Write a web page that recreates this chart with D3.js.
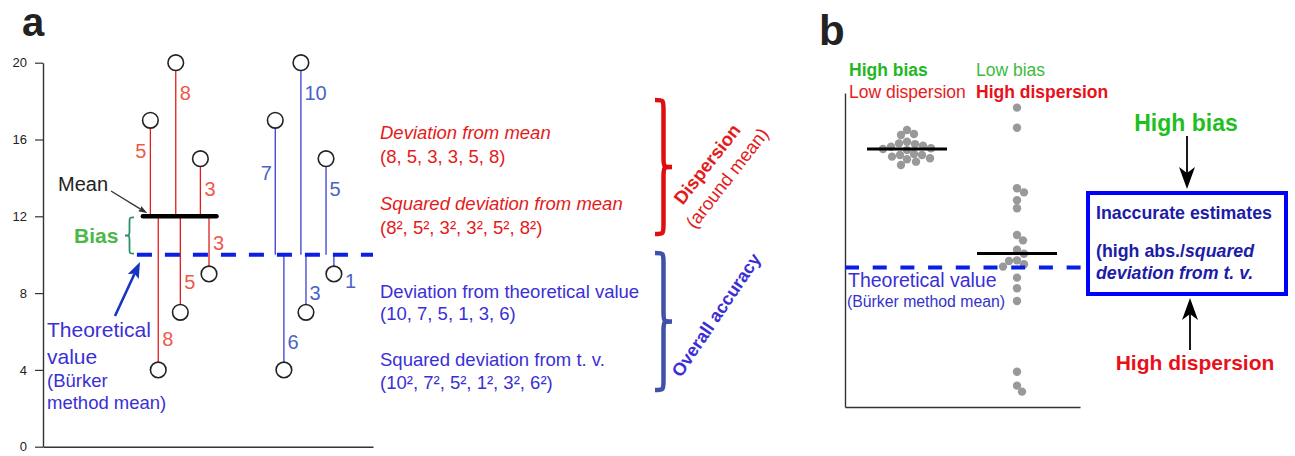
<!DOCTYPE html>
<html>
<head>
<meta charset="utf-8">
<script src="https://cdn.jsdelivr.net/npm/d3@7"></script>
<style>
  body { margin: 0; background: #fff; }
  svg { display: block; }
  text { font-family: "Liberation Sans", Arial, sans-serif; }
</style>
</head>
<body>
<svg id="chart" width="1295" height="456"></svg>
<script>
// ---------- panel a data ----------
const theoretical = 10;
const groupMean = 12;
const obsValues = [17, 20, 15, 9, 7, 4];
const obsPosLeft = [4.23, 5.23, 6.2, 6.54, 5.41, 4.54];     // observation slot, left example
const obsPosRight = [9.15, 10.16, 11.15, 11.46, 10.36, 9.49]; // observation slot, right example
const devFromMean = [5, 8, 3, 3, 5, 8];
const devFromTheo = [7, 10, 5, 1, 3, 6];
const yTicksA = [0, 4, 8, 12, 16, 20];

const dispersionLines = ["Deviation from mean", "(8, 5, 3, 3, 5, 8)",
                         "Squared deviation from mean", "(8², 5², 3², 3², 5², 8²)"];
const accuracyLines = ["Deviation from theoretical value", "(10, 7, 5, 1, 3, 6)",
                       "Squared deviation from t. v.", "(10², 7², 5², 1², 3², 6²)"];

// ---------- panel b data ----------
const bTheoretical = 10;
const bHighBias = [19.85, 19.56, 19.49, 19.01, 18.84, 18.89, 18.72, 18.65, 18.54, 18.49,
                   18.41, 18.13, 18.06, 18.06, 17.94, 17.82, 17.75, 17.58, 17.34];
const bLowBias = [21.45, 20.01, 15.67, 15.38, 14.81, 14.24, 12.32, 11.94, 11.27, 10.98,
                  10.51, 10.46, 10.23, 10.06, 9.27, 8.51, 7.6, 2.53, 1.53, 1.1];

const RED = "#e31b1b", RED_LBL = "#f0584a", BLUE_LINE = "#3a3fd0", BLUE_LBL = "#4b63c6";
const TV_BLUE = "#3a2fd6", GREEN = "#4cb848";

const svg = d3.select("#chart");

// --- helpers ---
function arrow(g, x1, y1, x2, y2, color, width, headLen, headW, notch) {
    const ang = Math.atan2(y2 - y1, x2 - x1);
    const cos = Math.cos(ang), sin = Math.sin(ang);
    const bx = x2 - headLen * cos, by = y2 - headLen * sin;
    const nx = x2 - (headLen - notch) * cos, ny = y2 - (headLen - notch) * sin;
    g.append("line").attr("x1", x1).attr("y1", y1).attr("x2", nx).attr("y2", ny)
        .attr("stroke", color).attr("stroke-width", width);
    g.append("path")
        .attr("d", `M${x2},${y2}L${bx - headW / 2 * sin},${by + headW / 2 * cos}L${nx},${ny}L${bx + headW / 2 * sin},${by - headW / 2 * cos}Z`)
        .attr("fill", color);
}

// right-pointing curly brace (dir = 1) or left-pointing (dir = -1)
function brace(x0, y1, y2, w, dir) {
    const ym = (y1 + y2) / 2, r = Math.min(10, (y2 - y1) / 6);
    const xm = x0 + dir * w / 2, xt = x0 + dir * w;
    return `M${x0},${y1}C${xm},${y1} ${xm},${y1} ${xm},${y1 + r}` +
        `L${xm},${ym - r}C${xm},${ym} ${xm},${ym} ${xt},${ym}` +
        `C${xm},${ym} ${xm},${ym} ${xm},${ym + r}` +
        `L${xm},${y2 - r}C${xm},${y2} ${xm},${y2} ${x0},${y2}`;
}

// simple beeswarm: nearest free horizontal offset for each dot
function dodge(values, y, r) {
    const placed = [];
    return values.map(v => {
        const py = y(v);
        let off = 0;
        for (let k = 0; k < 200; k++) {
            const c = k === 0 ? 0 : (k % 2 ? 1 : -1) * Math.ceil(k / 2);
            if (placed.every(p => Math.hypot(p.x - c, p.y - py) >= 2 * r)) { off = c; break; }
        }
        placed.push({ x: off, y: py });
        return { v, dx: off, y: py };
    });
}

// ================= PANEL a =================
const ga = svg.append("g");
const xA = d3.scaleLinear().domain([0, 13]).range([43, 373]);
const yA = d3.scaleLinear().domain([0, 20]).range([446.7, 62.7]);

ga.append("text").attr("x", 22).attr("y", 36).attr("font-size", 40).attr("font-weight", "bold")
    .attr("fill", "#222").text("a");

const yAxisA = ga.append("g").attr("transform", `translate(${xA(0)},0)`)
    .call(d3.axisLeft(yA).tickValues(yTicksA).tickSize(8).tickSizeOuter(0).tickPadding(8));
yAxisA.select(".domain").attr("stroke", "#333").attr("stroke-width", 1.4);
yAxisA.selectAll(".tick line").attr("stroke", "#333").attr("stroke-width", 1.2);
yAxisA.selectAll(".tick text").attr("font-size", 13).attr("fill", "#222")
    .attr("font-family", "Liberation Sans, Arial, sans-serif");
const xAxisA = ga.append("g").attr("transform", `translate(0,${yA(0)})`)
    .call(d3.axisBottom(xA).tickValues([]).tickSizeOuter(0));
xAxisA.select(".domain").attr("stroke", "#333").attr("stroke-width", 1.4);

// red deviation lines (to the mean)
ga.selectAll(".devM").data(obsValues).enter().append("line")
    .attr("x1", (d, i) => xA(obsPosLeft[i])).attr("x2", (d, i) => xA(obsPosLeft[i]))
    .attr("y1", d => yA(d)).attr("y2", yA(groupMean))
    .attr("stroke", RED).attr("stroke-width", 1.3);

// blue deviation lines (to theoretical value)
ga.selectAll(".devT").data(obsValues).enter().append("line")
    .attr("x1", (d, i) => xA(obsPosRight[i])).attr("x2", (d, i) => xA(obsPosRight[i]))
    .attr("y1", d => yA(d)).attr("y2", yA(theoretical))
    .attr("stroke", BLUE_LINE).attr("stroke-width", 1.3);

// mean bar
ga.append("line")
    .attr("x1", xA(d3.min(obsPosLeft)) - 7.5).attr("x2", xA(d3.max(obsPosLeft)) + 7.5)
    .attr("y1", yA(groupMean)).attr("y2", yA(groupMean))
    .attr("stroke", "#000").attr("stroke-width", 4.5).attr("stroke-linecap", "round");

// theoretical value dashed line
ga.append("line").attr("x1", xA(3.7)).attr("x2", xA(13))
    .attr("y1", yA(theoretical)).attr("y2", yA(theoretical))
    .attr("stroke", "#0a1ee6").attr("stroke-width", 4).attr("stroke-dasharray", "15,13");

// circles
[obsPosLeft, obsPosRight].forEach(pos => {
    ga.selectAll(null).data(obsValues).enter().append("circle")
        .attr("cx", (d, i) => xA(pos[i])).attr("cy", d => yA(d)).attr("r", 7.8)
        .attr("fill", "#fff").attr("stroke", "#222").attr("stroke-width", 1.6);
});

// deviation labels
const labelSideL = [-1, 1, 1, 1, 1, 1];
ga.selectAll(".lblM").data(devFromMean).enter().append("text")
    .attr("x", (d, i) => xA(obsPosLeft[i]) + labelSideL[i] * 4)
    .attr("y", (d, i) => yA(obsValues[i] - Math.sign(obsValues[i] - groupMean) * 1.6))
    .attr("dy", "0.35em").attr("text-anchor", (d, i) => labelSideL[i] < 0 ? "end" : "start")
    .attr("font-size", 20).attr("fill", RED_LBL).text(d => d);

const labelSideR = [-1, 1, 1, 1, 1, 1];
const labelOffR = [2.75, 1.6, 1.6, -0.35, 1, 1.45];
ga.selectAll(".lblT").data(devFromTheo).enter().append("text")
    .attr("x", (d, i) => xA(obsPosRight[i]) + labelSideR[i] * (i === 3 ? 11 : 3.5))
    .attr("y", (d, i) => yA(obsValues[i] - Math.sign(obsValues[i] - theoretical) * labelOffR[i]))
    .attr("dy", "0.35em").attr("text-anchor", (d, i) => labelSideR[i] < 0 ? "end" : "start")
    .attr("font-size", 20).attr("fill", BLUE_LBL).text(d => d);

// Mean annotation
ga.append("text").attr("x", 58).attr("y", 191).attr("font-size", 20).attr("fill", "#222").text("Mean");
arrow(ga, 111, 191, xA(d3.min(obsPosLeft)) - 3, yA(groupMean) - 3, "#333", 1.3, 9, 6, 1);

// Bias
ga.append("text").attr("x", 74).attr("y", yA(11)).attr("dy", "0.35em")
    .attr("font-size", 21).attr("font-weight", "bold").attr("fill", GREEN).text("Bias");
ga.append("path").attr("d", brace(134, yA(groupMean) + 1, yA(theoretical) - 1, 9, -1))
    .attr("fill", "none").attr("stroke", "#2e8f6a").attr("stroke-width", 1.8);

// Theoretical value annotation
arrow(ga, 115, 316, 140, 262, "#1535c0", 2.6, 16, 12, 3);
const tv = ga.append("text").attr("fill", TV_BLUE);
tv.append("tspan").attr("x", 47).attr("y", 337).attr("font-size", 21).text("Theoretical");
tv.append("tspan").attr("x", 47).attr("y", 364).attr("font-size", 21).text("value");
tv.append("tspan").attr("x", 47).attr("y", 387).attr("font-size", 18.5).text("(Bürker");
tv.append("tspan").attr("x", 47).attr("y", 409).attr("font-size", 18.5).text("method mean)");

// explanatory text
const textY = [133, 157, 204, 228];
const gt = svg.append("g").attr("font-size", 18.5);
gt.selectAll(".disp").data(dispersionLines).enter().append("text")
    .attr("x", 380).attr("y", (d, i) => textY[i]).attr("dy", "0.35em")
    .attr("fill", RED).attr("font-style", (d, i) => i % 2 === 0 ? "italic" : "normal").text(d => d);
const textY2 = [292, 314, 360, 383];
gt.selectAll(".acc").data(accuracyLines).enter().append("text")
    .attr("x", 380).attr("y", (d, i) => textY2[i]).attr("dy", "0.35em")
    .attr("fill", TV_BLUE).text(d => d);

// braces + rotated labels
svg.append("path").attr("d", brace(655, 100, 234, 17, 1))
    .attr("fill", "none").attr("stroke", "#e00f0f").attr("stroke-width", 4.5);
svg.append("path").attr("d", brace(655, 253, 390, 17, 1))
    .attr("fill", "none").attr("stroke", "#3f51a8").attr("stroke-width", 4.5);

svg.append("text").attr("transform", "translate(707,164) rotate(-52)")
    .attr("text-anchor", "middle").attr("dy", "0.35em").attr("font-size", 18.5)
    .attr("font-weight", "bold").attr("fill", RED).text("Dispersion");
svg.append("text").attr("transform", "translate(727,178) rotate(-52)")
    .attr("text-anchor", "middle").attr("dy", "0.35em").attr("font-size", 18.5)
    .attr("fill", RED).text("(around mean)");
svg.append("text").attr("transform", "translate(716,315) rotate(-56)")
    .attr("text-anchor", "middle").attr("dy", "0.35em").attr("font-size", 18)
    .attr("font-weight", "bold").attr("fill", TV_BLUE).text("Overall accuracy");

// ================= PANEL b =================
const gb = svg.append("g");
const yB = d3.scaleLinear().domain([0, 22.5]).range([407, 93]);
const colB = d3.scalePoint().domain(["high", "low"]).range([907, 1017]);

gb.append("text").attr("x", 819).attr("y", 45).attr("font-size", 42).attr("font-weight", "bold")
    .attr("fill", "#222").text("b");

gb.append("g").attr("transform", "translate(845,0)")
    .call(d3.axisLeft(yB).tickValues([]).tickSizeOuter(0))
    .select(".domain").attr("stroke", "#333").attr("stroke-width", 1.4);
gb.append("g").attr("transform", `translate(0,${yB(0)})`)
    .call(d3.axisBottom(d3.scaleLinear().range([845, 1080])).tickValues([]).tickSizeOuter(0))
    .select(".domain").attr("stroke", "#333").attr("stroke-width", 1.4);

// column headers
gb.append("text").attr("x", 849).attr("y", 70).attr("dy", "0.35em").attr("font-size", 17.5)
    .attr("font-weight", "bold").attr("fill", "#22b822").text("High bias");
gb.append("text").attr("x", 849).attr("y", 92).attr("dy", "0.35em").attr("font-size", 17.5)
    .attr("fill", "#e8201c").text("Low dispersion");
gb.append("text").attr("x", 976).attr("y", 70).attr("dy", "0.35em").attr("font-size", 17.5)
    .attr("fill", "#3cbb3c").text("Low bias");
gb.append("text").attr("x", 976).attr("y", 92).attr("dy", "0.35em").attr("font-size", 17.5)
    .attr("font-weight", "bold").attr("fill", "#e8101a").text("High dispersion");

// dots
[["high", bHighBias], ["low", bLowBias]].forEach(([key, vals]) => {
    const pts = dodge(vals, yB, 3.9);
    gb.selectAll(null).data(pts).enter().append("circle")
        .attr("cx", d => colB(key) + d.dx).attr("cy", d => d.y).attr("r", 4.2)
        .attr("fill", "#999");
    const m = d3.mean(vals);
    gb.append("line").attr("x1", colB(key) - 40).attr("x2", colB(key) + 40)
        .attr("y1", yB(m)).attr("y2", yB(m)).attr("stroke", "#000").attr("stroke-width", 3);
});

// theoretical line
gb.append("line").attr("x1", 845).attr("x2", 1082)
    .attr("y1", yB(bTheoretical)).attr("y2", yB(bTheoretical))
    .attr("stroke", "#0a1ee6").attr("stroke-width", 4).attr("stroke-dasharray", "14,13.7");

gb.append("text").attr("x", 848).attr("y", yB(bTheoretical) + 13).attr("dy", "0.35em")
    .attr("font-size", 19.5).attr("fill", TV_BLUE).text("Theoretical value");
gb.append("text").attr("x", 847).attr("y", yB(bTheoretical) + 34).attr("dy", "0.35em")
    .attr("font-size", 15.8).attr("fill", "#3333cc").text("(Bürker method mean)");

// summary box
gb.append("rect").attr("x", 1088).attr("y", 193).attr("width", 198).attr("height", 101)
    .attr("fill", "none").attr("stroke", "#0000ff").attr("stroke-width", 4);
const bt = gb.append("g").attr("fill", "#1c1ca8").attr("font-weight", "bold").attr("font-size", 17.8);
bt.append("text").attr("x", 1096).attr("y", 219).text("Inaccurate estimates");
const l2 = bt.append("text").attr("x", 1096).attr("y", 257);
l2.append("tspan").text("(high abs./");
l2.append("tspan").attr("font-style", "italic").text("squared");
bt.append("text").attr("x", 1096).attr("y", 279).attr("font-style", "italic").text("deviation from t. v.");

gb.append("text").attr("x", 1186).attr("y", 123).attr("dy", "0.35em").attr("text-anchor", "middle")
    .attr("font-size", 23).attr("font-weight", "bold").attr("fill", "#1fbf1f").text("High bias");
arrow(gb, 1187, 136, 1187, 189, "#000", 1.8, 22, 16, 6);

gb.append("text").attr("x", 1195).attr("y", 363).attr("dy", "0.35em").attr("text-anchor", "middle")
    .attr("font-size", 21).attr("font-weight", "bold").attr("fill", "#e8101a").text("High dispersion");
arrow(gb, 1190, 350, 1190, 298, "#000", 1.8, 22, 16, 6);
</script>
</body>
</html>
